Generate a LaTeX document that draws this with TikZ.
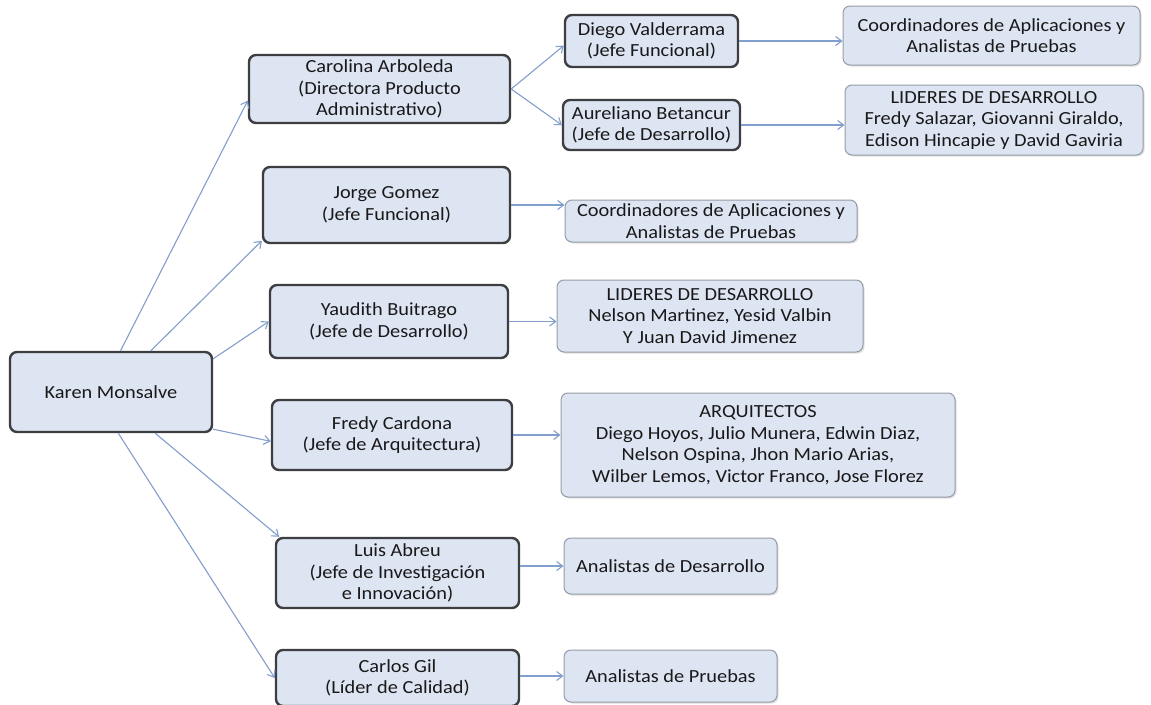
\documentclass[tikz,border=0pt]{standalone}
\usepackage{fontspec}
\setmainfont{Carlito}[FakeStretch=1.1]
\usetikzlibrary{arrows.meta,shadows}
\definecolor{boxfill}{RGB}{221,228,242}
\definecolor{mgrline}{RGB}{60,62,66}
\definecolor{leafline}{RGB}{150,156,166}
\definecolor{conn}{RGB}{130,158,205}
\begin{document}
\begin{tikzpicture}[x=1pt,y=-1pt,
  base/.style={rounded corners=7pt, fill=boxfill, align=center, inner sep=0pt,
    font=\fontsize{18.5}{21.5}\selectfont, text=black!90},
  mgr/.style={base, draw=mgrline, line width=2.4pt},
  leaf/.style={base, draw=leafline, line width=1pt,
    drop shadow={shadow xshift=1.5pt, shadow yshift=-1.5pt, fill=black!25}},
  conn/.style={draw=conn, line width=1.1pt, -{Straight Barb[length=6pt,width=9pt]}}
]
\useasboundingbox (0,0) rectangle (1151,704);

\node[mgr, minimum width=202pt, minimum height=80pt] (karen) at (111,392) {Karen Monsalve};

\node[mgr, minimum width=261pt, minimum height=68pt] (carolina) at (379.5,89)
  {Carolina Arboleda\\(Directora Producto\\Administrativo)};
\node[mgr, minimum width=173pt, minimum height=52pt] (diego) at (651.5,41)
  {Diego Valderrama\\(Jefe Funcional)};
\node[mgr, minimum width=177pt, minimum height=50pt] (aureliano) at (651.5,125)
  {Aureliano Betancur\\(Jefe de Desarrollo)};
\node[leaf, minimum width=297pt, minimum height=59pt] (coord1) at (991.5,35.5)
  {Coordinadores de Aplicaciones y\\Analistas de Pruebas};
\node[leaf, minimum width=298pt, minimum height=70pt] (lideres1) at (994,120)
  {LIDERES DE DESARROLLO\\Fredy Salazar, Giovanni Giraldo,\\Edison Hincapie y David Gaviria};

\node[mgr, minimum width=247pt, minimum height=76pt] (jorge) at (386.5,205)
  {Jorge Gomez\\(Jefe Funcional)};
\node[leaf, minimum width=292pt, minimum height=42pt] (coord2) at (711,221)
  {Coordinadores de Aplicaciones y\\Analistas de Pruebas};

\node[mgr, minimum width=238pt, minimum height=73pt] (yaudith) at (389,321.5)
  {Yaudith Buitrago\\(Jefe de Desarrollo)};
\node[leaf, minimum width=306pt, minimum height=72pt] (lideres2) at (710,316)
  {LIDERES DE DESARROLLO\\Nelson Martinez, Yesid Valbin\\Y Juan David Jimenez};

\node[mgr, minimum width=240pt, minimum height=70pt] (fredy) at (392,435)
  {Fredy Cardona\\(Jefe de Arquitectura)};
\node[leaf, minimum width=394pt, minimum height=104pt] (arq) at (758,445)
  {ARQUITECTOS\\Diego Hoyos, Julio Munera, Edwin Diaz,\\Nelson Ospina, Jhon Mario Arias,\\Wilber Lemos, Victor Franco, Jose Florez};

\node[mgr, minimum width=243pt, minimum height=70pt] (luis) at (397.5,573)
  {Luis Abreu\\(Jefe de Investigación\\e Innovación)};
\node[leaf, minimum width=213pt, minimum height=56pt] (anadev) at (670.5,566)
  {Analistas de Desarrollo};

\node[mgr, minimum width=243pt, minimum height=56pt] (carlos) at (397.5,678)
  {Carlos Gil\\(Líder de Calidad)};
\node[leaf, minimum width=213pt, minimum height=52pt] (anapru) at (670.5,676)
  {Analistas de Pruebas};

% connectors from Karen
\draw[conn] (karen.77) -- (carolina.185);
\draw[conn] (karen.46) -- (jorge.196);
\draw[conn] (karen.18) -- (yaudith.west);
\draw[conn] (karen.-20) -- (fredy.183);
\draw[conn] (karen.-43) -- (luis.163);
\draw[conn] (karen.-80) -- (carlos.west);

% Carolina branch
\draw[conn] (carolina.east) -- (diego.183);
\draw[conn] (carolina.east) -- (aureliano.west);
\draw[conn] (diego.east) -- (diego.east -| coord1.west);
\draw[conn] (aureliano.east) -- (aureliano.east -| lideres1.west);

% others
\draw[conn] (jorge.east) -- (jorge.east -| coord2.west);
\draw[conn] (yaudith.east) -- (yaudith.east -| lideres2.west);
\draw[conn] (fredy.east) -- (fredy.east -| arq.west);
\draw[conn] (luis.east |- anadev.west) -- (anadev.west);
\draw[conn] (carlos.east |- anapru.west) -- (anapru.west);
\end{tikzpicture}
\end{document}
